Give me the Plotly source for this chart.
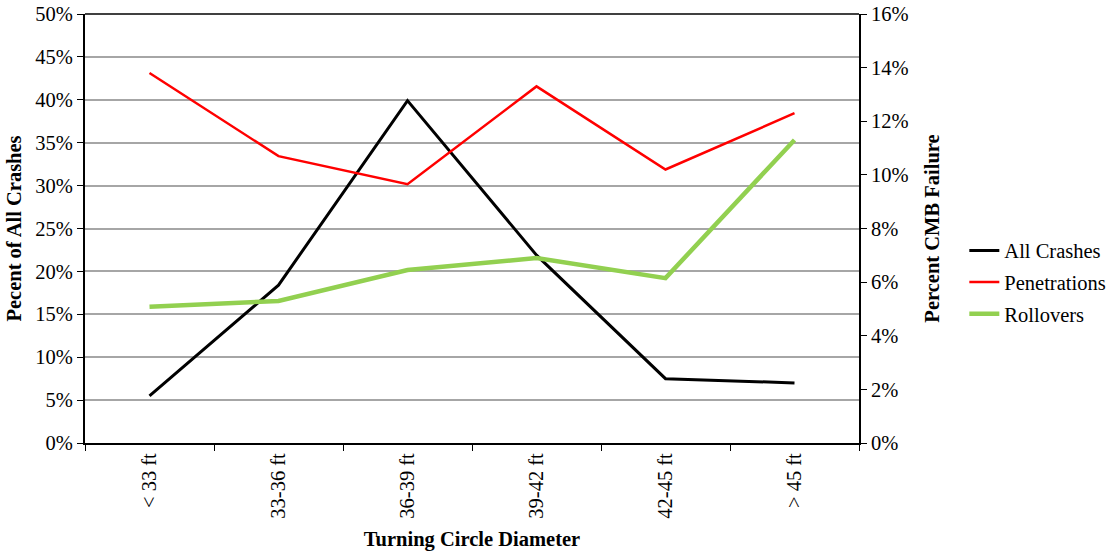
import plotly.graph_objects as go

categories = ["< 33 ft", "33-36 ft", "36-39 ft", "39-42 ft", "42-45 ft", "> 45 ft"]
all_crashes = [5.5, 18.4, 39.9, 21.9, 7.5, 7.0]        # percent of all crashes (left axis)
penetrations = [13.8, 10.7, 9.65, 13.3, 10.2, 12.3]    # percent CMB failure (right axis)
rollovers = [5.08, 5.3, 6.45, 6.9, 6.15, 11.3]         # percent CMB failure (right axis)

left_ticks = list(range(0, 51, 5))
right_ticks = list(range(0, 17, 2))

FONT = "Liberation Serif"
FS = 20.5
TXT = dict(family=FONT, size=FS, color="black")

fig = go.Figure()
fig.add_trace(go.Scatter(x=categories, y=all_crashes, name="All Crashes", mode="lines",
                         line=dict(color="black", width=3), legendgroup="a"))
fig.add_trace(go.Scatter(x=categories, y=penetrations, name="Penetrations", mode="lines",
                         line=dict(color="#ff0000", width=2.5), yaxis="y2", legendgroup="b"))
fig.add_trace(go.Scatter(x=categories, y=rollovers, name="Rollovers", mode="lines",
                         line=dict(color="#92d050", width=4.5), yaxis="y2", legendgroup="c"))

fig.update_layout(
    width=1110, height=552,
    margin=dict(l=85, r=251, t=14, b=109, autoexpand=False),
    paper_bgcolor="white", plot_bgcolor="white",
    font=TXT,
    showlegend=True,
    legend=dict(x=1.326, y=0.375, xanchor="right", yanchor="middle",
                font=TXT, tracegroupgap=2, bgcolor="rgba(0,0,0,0)"),
    xaxis=dict(
        type="category", range=[-0.5, 5.5], automargin=False,
        tickson="boundaries", ticks="outside", ticklen=6, tickcolor="black",
        tickfont=TXT,
        showline=True, linecolor="black", linewidth=2,
        tickangle=-90, showgrid=False, zeroline=False,
        title=dict(text="<b>Turning Circle Diameter</b>", font=TXT, standoff=14),
    ),
    yaxis=dict(
        range=[0, 50], tickvals=left_ticks, ticktext=[f"{v}%" for v in left_ticks],
        automargin=False, tickfont=TXT,
        ticks="outside", ticklen=6, tickcolor="black",
        showline=True, linecolor="black", linewidth=2,
        showgrid=True, gridcolor="#a6a6a6", gridwidth=2, zeroline=False,
        title=dict(text="<b>Pecent of All Crashes</b>", font=TXT, standoff=8),
    ),
    yaxis2=dict(
        range=[0, 16], tickvals=right_ticks, ticktext=[f"{v}%" for v in right_ticks],
        overlaying="y", side="right", automargin=False, tickfont=TXT,
        ticks="outside", ticklen=6, tickcolor="black",
        showline=True, linecolor="black", linewidth=2,
        showgrid=False, zeroline=False,
        title=dict(text="<b>Percent CMB Failure</b>", font=TXT, standoff=17),
    ),
)

# darker top border of the plot area
fig.add_shape(type="line", xref="paper", yref="paper", x0=0, x1=1, y0=1, y1=1,
              line=dict(color="#404040", width=2), layer="above")

fig.write_html("out.html")
